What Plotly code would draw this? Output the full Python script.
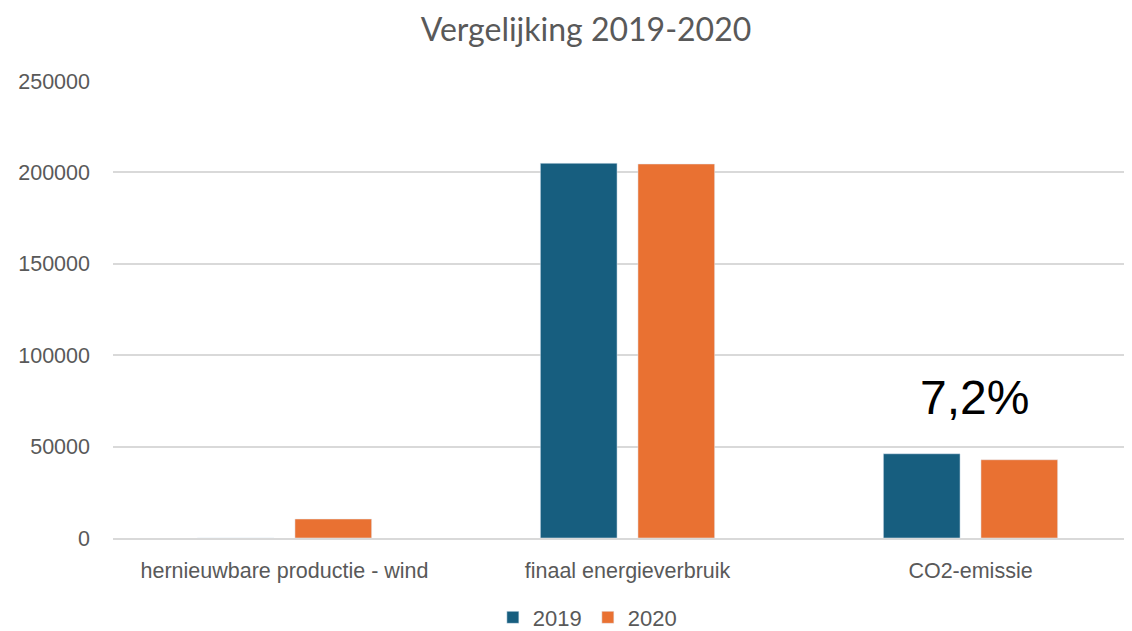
import plotly.graph_objects as go

categories = ["hernieuwbare productie - wind", "finaal energieverbruik", "CO2-emissie"]
values_2019 = [0, 205000, 46090]
values_2020 = [10390, 204600, 42800]
annotation_text = "7,2%"

fig = go.Figure()
fig.add_trace(go.Bar(name="2019", x=categories, y=values_2019, marker_color="#175E7F"))
fig.add_trace(go.Bar(name="2020", x=categories, y=values_2020, marker_color="#E97132"))

fig.add_annotation(x=categories[2], y=max(values_2019[2], values_2020[2]), yshift=56,
                   text=annotation_text, showarrow=False, xshift=4,
                   font=dict(family="Liberation Sans, Arial", size=48, color="#000000"))

fig.update_layout(
    width=1132, height=631,
    paper_bgcolor="white", plot_bgcolor="white",
    margin=dict(l=105, r=8, t=73, b=101, autoexpand=False),
    title=dict(text="Vergelijking 2019-2020", x=0.5106, xanchor="center", y=0.966, yanchor="middle",
               font=dict(family="Lato, Open Sans, sans-serif", size=32, color="#595959")),
    barmode="group", bargap=0.431, bargroupgap=0.214,
    font=dict(family="Liberation Sans, Arial", color="#595959"),
    xaxis=dict(range=[-0.5, 2.4708], tickfont=dict(size=21.5, color="#595959"), showline=True,
               linecolor="#d9d9d9", linewidth=1.5, ticks="", ticklabelstandoff=12),
    yaxis=dict(range=[0, 250000], dtick=50000, tickformat="d", gridcolor="#d9d9d9", gridwidth=1.5,
               zeroline=False, tickfont=dict(size=21.5, color="#595959"), ticklabelstandoff=22),
    legend=dict(orientation="h", x=0.466, xanchor="center", y=-0.174, yanchor="middle",
                font=dict(size=22, color="#595959"), itemwidth=30, entrywidth=50),
    showlegend=True,
)

fig.write_html("out.html")
